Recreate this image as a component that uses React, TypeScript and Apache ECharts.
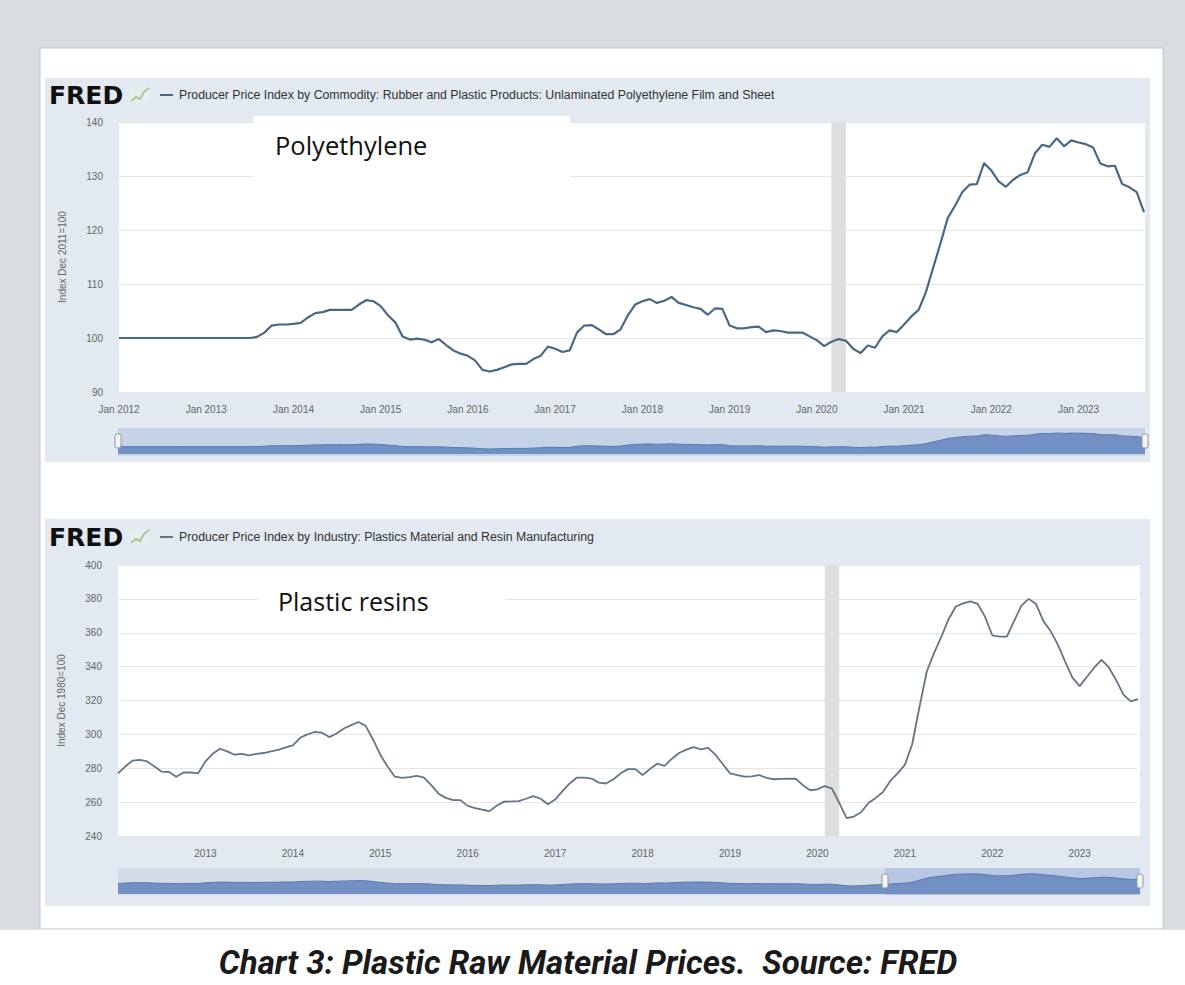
import React, { useEffect, useRef } from "react";
import * as echarts from "echarts";

const MONTHS = ["Jan", "Feb", "Mar", "Apr", "May", "Jun", "Jul", "Aug", "Sep", "Oct", "Nov", "Dec"];
function monthLabels(startYear: number, count: number): string[] {
  const out: string[] = [];
  for (let i = 0; i < count; i++) {
    out.push(MONTHS[i % 12] + " " + (startYear + Math.floor(i / 12)));
  }
  return out;
}

// Polyethylene film & sheet PPI (Dec 2011 = 100), monthly Jan 2012 – Oct 2023
const polyMonths = monthLabels(2012, 142);
const polyethyleneValues = [
  100, 100, 100, 100, 100, 100, 100, 100, 100, 100, 100, 100,
  100, 100, 100, 100, 100, 100, 100, 100.2, 101, 102.3, 102.5, 102.5,
  102.6, 102.8, 103.8, 104.6, 104.8, 105.2, 105.2, 105.2, 105.2, 106.2, 107, 106.8,
  105.9, 104.2, 102.9, 100.3, 99.7, 99.9, 99.7, 99.2, 99.8, 98.7, 97.7, 97.1,
  96.7, 95.8, 94.1, 93.8, 94.1, 94.6, 95.1, 95.2, 95.2, 96.1, 96.7, 98.4,
  98, 97.4, 97.7, 101, 102.3, 102.4, 101.6, 100.7, 100.7, 101.6, 104.2, 106.2,
  106.8, 107.2, 106.5, 106.9, 107.6, 106.5, 106.1, 105.7, 105.4, 104.3, 105.5, 105.4,
  102.3, 101.8, 101.8, 102, 102.1, 101.1, 101.4, 101.3, 101, 101, 101, 100.3,
  99.6, 98.5, 99.3, 99.8, 99.5, 98, 97.2, 98.6, 98.2, 100.3, 101.4, 101.1,
  102.5, 104, 105.2, 108.5, 113, 117.5, 122.2, 124.5, 127, 128.4, 128.5, 132.4,
  131, 129, 128, 129.3, 130.2, 130.7, 134.2, 135.8, 135.4, 137, 135.5, 136.6,
  136.2, 135.9, 135.3, 132.3, 131.8, 131.9, 128.5, 127.9, 127, 123.3,
];

// Plastics material & resin manufacturing PPI (Dec 1980 = 100), monthly Jan 2012 – Sep 2023
const resinMonths = monthLabels(2012, 141);
const resinValues = [
  277, 281, 284.5, 285, 284, 281, 278, 277.8, 275, 277.5, 277.5, 277,
  284, 288.5, 291.5, 290, 288, 288.5, 287.6, 288.5, 289, 290, 290.8, 292.3,
  293.5, 298, 300, 301.4, 301, 298.4, 300.5, 303.5, 305.5, 307.3, 305, 297,
  288, 281, 275, 274.3, 274.8, 275.5, 274.5, 270, 265, 262.5, 261.2, 261.2,
  257.8, 256.5, 255.5, 254.7, 258, 260.3, 260.4, 260.6, 262, 263.5, 262, 258.8,
  261.5, 266.5, 271, 274.5, 274.5, 273.9, 271.5, 271, 273.5, 277, 279.5, 279.5,
  276, 279.5, 282.7, 281.4, 285.5, 289, 291, 292.5, 291.2, 292, 288, 282.5,
  277, 276, 275, 275.2, 276, 274.3, 273.5, 273.7, 273.8, 273.9, 270, 267,
  267.5, 269.5, 268, 259.5, 250.5, 251.5, 254, 259.5, 262.5, 266, 272.5, 277,
  282, 294, 316, 337, 348, 357.5, 368, 375.5, 377.3, 378.5, 377, 369.5,
  358.5, 357.7, 357.7, 367, 376, 380, 377, 367, 361, 353, 343, 333.5,
  328.5, 334, 339.5, 344, 339.5, 332, 323.5, 319.5, 320.8,
];

const polyRecession = ["Mar 2020", "May 2020"];
const resinRecession = ["Feb 2020", "Apr 2020"];

const polyTitle = "Producer Price Index by Commodity: Rubber and Plastic Products: Unlaminated Polyethylene Film and Sheet";
const resinTitle = "Producer Price Index by Industry: Plastics Material and Resin Manufacturing";
const polyAxisName = "Index Dec 2011=100";
const resinAxisName = "Index Dec 1980=100";
const caption = "Chart 3: Plastic Raw Material Prices.  Source: FRED";

const POLY_COLOR = "#4b6784";
const RESIN_COLOR = "#667485";

function fredHeader(y: number, title: string, color: string): any[] {
  return [
    { type: "text", x: 49, y, z: 5, style: { text: "FRED", font: 'bold 25px "DejaVu Sans"', fill: "#111", textVerticalAlign: "middle" } },
    { type: "rect", shape: { x: 129, y: y - 8, width: 20, height: 15 }, z: 5, style: { fill: "#e8eef0" } },
    { type: "polyline", shape: { points: [[131, y + 6], [136, y + 2], [140, y + 4], [144, y - 3], [149, y - 7]] }, z: 6, style: { stroke: "#a9c79a", lineWidth: 2, fill: null } },
    { type: "line", shape: { x1: 160, y1: y, x2: 173, y2: y }, z: 5, style: { stroke: color, lineWidth: 2 } },
    { type: "text", x: 179, y, z: 5, style: { text: title, font: '12.3px "Liberation Sans"', fill: "#333", textVerticalAlign: "middle" } },
  ];
}

export default function App() {
  const ref = useRef<HTMLDivElement>(null);
  useEffect(() => {
    if (!ref.current) return;
    const chart = echarts.init(ref.current, undefined, { renderer: "svg" });
    const axisLabelStyle = { color: "#666", fontSize: 10, fontFamily: "Liberation Sans" };
    const option: any = {
      animation: false,
      backgroundColor: "#ffffff",
      grid: [
        { left: 119, top: 122, width: 1025, height: 270 },
        { left: 118, top: 430, width: 1027, height: 24 },
        { left: 118, top: 565, width: 1020, height: 271 },
        { left: 118, top: 870, width: 1022, height: 24 },
      ],
      xAxis: [
        {
          gridIndex: 0, type: "category", data: polyMonths, boundaryGap: false,
          axisLine: { show: false }, axisTick: { show: false },
          axisLabel: { ...axisLabelStyle, margin: 12, interval: (i: number) => i % 12 === 0 },
        },
        { gridIndex: 1, type: "category", data: polyMonths, boundaryGap: false, show: false },
        {
          gridIndex: 2, type: "category", data: resinMonths, boundaryGap: false,
          axisLine: { show: false }, axisTick: { show: false },
          axisLabel: {
            ...axisLabelStyle, margin: 12,
            interval: (i: number) => i % 12 === 0 && i > 0,
            formatter: (v: string) => v.split(" ")[1],
          },
        },
        { gridIndex: 3, type: "category", data: resinMonths, boundaryGap: false, show: false },
      ],
      yAxis: [
        {
          gridIndex: 0, type: "value", min: 90, max: 140, interval: 10,
          axisLine: { show: false }, axisTick: { show: false },
          axisLabel: { ...axisLabelStyle, margin: 16 },
          splitLine: { lineStyle: { color: "#e6e6e6", width: 1 } },
          name: polyAxisName, nameLocation: "middle", nameGap: 52,
          nameTextStyle: { color: "#666", fontSize: 10, fontFamily: "Liberation Sans" },
        },
        { gridIndex: 1, type: "value", min: 80, max: 145, show: false, splitLine: { show: false } },
        {
          gridIndex: 2, type: "value", min: 240, max: 400, interval: 20,
          axisLine: { show: false }, axisTick: { show: false },
          axisLabel: { ...axisLabelStyle, margin: 16 },
          splitLine: { lineStyle: { color: "#e6e6e6", width: 1 } },
          name: resinAxisName, nameLocation: "middle", nameGap: 52,
          nameTextStyle: { color: "#666", fontSize: 10, fontFamily: "Liberation Sans" },
        },
        { gridIndex: 3, type: "value", min: 165, max: 420, show: false, splitLine: { show: false } },
      ],
      series: [
        {
          type: "line", xAxisIndex: 0, yAxisIndex: 0, data: polyethyleneValues, symbol: "none",
          lineStyle: { color: POLY_COLOR, width: 2.2 },
          markArea: { silent: true, itemStyle: { color: "#dedede" }, data: [[{ xAxis: polyRecession[0] }, { xAxis: polyRecession[1] }]] },
        },
        {
          type: "line", xAxisIndex: 1, yAxisIndex: 1, data: polyethyleneValues, symbol: "none",
          lineStyle: { color: "#5a79b0", width: 1 }, areaStyle: { color: "#7390c4", origin: "start", opacity: 1 },
        },
        {
          type: "line", xAxisIndex: 2, yAxisIndex: 2, data: resinValues, symbol: "none",
          lineStyle: { color: RESIN_COLOR, width: 1.8 },
          markArea: { silent: true, itemStyle: { color: "#dedede" }, data: [[{ xAxis: resinRecession[0] }, { xAxis: resinRecession[1] }]] },
        },
        {
          type: "line", xAxisIndex: 3, yAxisIndex: 3, data: resinValues, symbol: "none",
          lineStyle: { color: "#5a79b0", width: 1 }, areaStyle: { color: "#7390c4", origin: "start", opacity: 1 },
        },
      ],
      graphic: [
        // page frame
        { type: "rect", shape: { x: 0, y: 0, width: 1185, height: 48 }, z: -20, style: { fill: "#d9dde2" } },
        { type: "rect", shape: { x: 0, y: 0, width: 40, height: 930 }, z: -20, style: { fill: "#d9dde2" } },
        { type: "rect", shape: { x: 1163, y: 0, width: 22, height: 930 }, z: -20, style: { fill: "#d9dde2" } },
        { type: "rect", shape: { x: 40, y: 48, width: 1123, height: 881 }, z: -19, style: { fill: "#ffffff", stroke: "#c4c8cc", lineWidth: 1 } },
        // FRED panels
        { type: "rect", shape: { x: 45, y: 78, width: 1105, height: 384 }, z: -18, style: { fill: "#e2e9f0" } },
        { type: "rect", shape: { x: 45, y: 519, width: 1105, height: 387 }, z: -18, style: { fill: "#e2e9f0" } },
        // plot areas
        { type: "rect", shape: { x: 119, y: 122, width: 1026, height: 270 }, z: -17, style: { fill: "#ffffff" } },
        { type: "rect", shape: { x: 118, y: 565, width: 1022, height: 271 }, z: -17, style: { fill: "#ffffff" } },
        // navigators
        { type: "rect", shape: { x: 118, y: 428, width: 1027, height: 28 }, z: -17, style: { fill: "#c6d2e6" } },
        { type: "rect", shape: { x: 118, y: 868, width: 767, height: 27 }, z: -17, style: { fill: "#d3dbe7" } },
        { type: "rect", shape: { x: 885, y: 868, width: 255, height: 27 }, z: -17, style: { fill: "#b7c6e2" } },
        { type: "rect", shape: { x: 115, y: 434, width: 6, height: 14, r: 2 }, z: 8, style: { fill: "#f4f4f4", stroke: "#999", lineWidth: 1 } },
        { type: "rect", shape: { x: 1142, y: 434, width: 6, height: 14, r: 2 }, z: 8, style: { fill: "#f4f4f4", stroke: "#999", lineWidth: 1 } },
        { type: "rect", shape: { x: 882, y: 874, width: 6, height: 14, r: 2 }, z: 8, style: { fill: "#f4f4f4", stroke: "#999", lineWidth: 1 } },
        { type: "rect", shape: { x: 1137, y: 874, width: 6, height: 14, r: 2 }, z: 8, style: { fill: "#f4f4f4", stroke: "#999", lineWidth: 1 } },
        // annotation boxes
        { type: "rect", shape: { x: 253, y: 116, width: 317, height: 66 }, z: 1, style: { fill: "#ffffff" } },
        { type: "text", x: 275, y: 145, z: 5, style: { text: "Polyethylene", font: '25.5px "Open Sans"', fill: "#111", textVerticalAlign: "middle" } },
        { type: "rect", shape: { x: 258, y: 578, width: 247, height: 48 }, z: 1, style: { fill: "#ffffff" } },
        { type: "text", x: 278, y: 601, z: 5, style: { text: "Plastic resins", font: '25px "Open Sans"', fill: "#111", textVerticalAlign: "middle" } },
        ...fredHeader(95, polyTitle, POLY_COLOR),
        ...fredHeader(537, resinTitle, RESIN_COLOR),
        // caption
        { type: "text", x: 588, y: 962, z: 5, style: { text: caption, font: 'italic bold 33px Roboto', fill: "#1a1a1a", textAlign: "center", textVerticalAlign: "middle" } },
      ],
    };
    chart.setOption(option);
    return () => chart.dispose();
  }, []);
  return <div ref={ref} style={{ position: "absolute", left: 0, top: 0, width: 1185, height: 985 }} />;
}
